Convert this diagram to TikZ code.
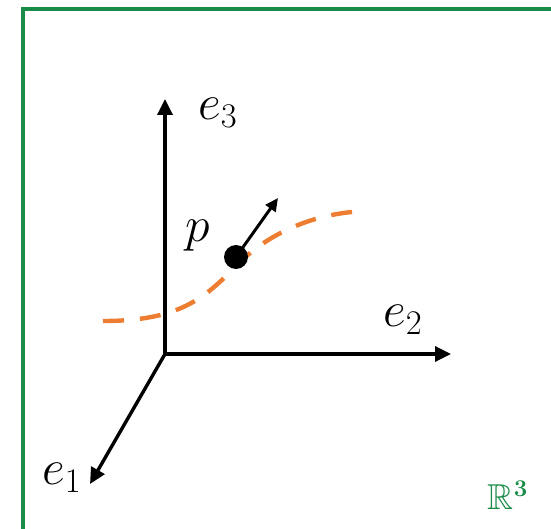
\documentclass[tikz,border=0pt]{standalone}
\usepackage{amsmath}
\usepackage{amssymb}
\usepackage{tikz}
\usepackage{xcolor}
\usetikzlibrary{arrows.meta}
\definecolor{vertCadre}{RGB}{24,140,70}
\definecolor{orangeCourbe}{RGB}{237,125,49}

\begin{document}
\begin{tikzpicture}[
		x=0.5pt, y=-0.5pt,
		% Styles du repere et de la courbe
		axe/.style={-{Triangle[length=8pt, width=7.5pt]}, line width=1.7pt, black},
		tangente/.style={-{Triangle[length=6.5pt, width=6pt]}, line width=1.5pt, black},
		courbe/.style={orangeCourbe, line width=2.2pt, dash pattern=on 10.5pt off 8pt},
		etiquette/.style={font=\fontsize{24}{28}\selectfont, inner sep=0pt},
		pointStyle/.style={circle, fill=black, minimum size=12pt, inner sep=0pt},
		]
		
		\useasboundingbox (0,0) rectangle (551,529);
		\draw[vertCadre, line width=1.6pt] (23,9) rectangle (600,580);
		
		
		\coordinate (O) at (165,354);
		\coordinate (E1) at (90,484);
		\coordinate (E2) at (451,354);
		\coordinate (E3) at (165,99);
		\coordinate (T) at (278,198);
		
		
		\draw[axe] (O) -- (E1);
		\draw[axe] (O) -- (E2);
		\draw[axe] (O) -- (E3);
		
		
		\node[etiquette] (labelE1) at (62,478) {$e_1$};
		\node[etiquette] (labelE2) at (403,320) {$e_2$};
		\node[etiquette] (labelE3) at (218,113) {$e_3$};
		
		
		\draw[courbe] (103,321) .. controls (180,321) and (205,298) .. (238,264)
		.. controls (272,230) and (320,212) .. (368,211);
		
		
		\node[pointStyle] (P) at (236,257) {};
		\node[etiquette] (labelP) at (198,236) {$p$};
		\draw[tangente] (P.center) -- (T);
		
		
		\node[etiquette, font=\fontsize{18}{20}\selectfont, text=vertCadre] (espace) at (508,495) {$\mathbb{R}^{\mathbf{3}}$};
		
	\end{tikzpicture}
\end{document}
